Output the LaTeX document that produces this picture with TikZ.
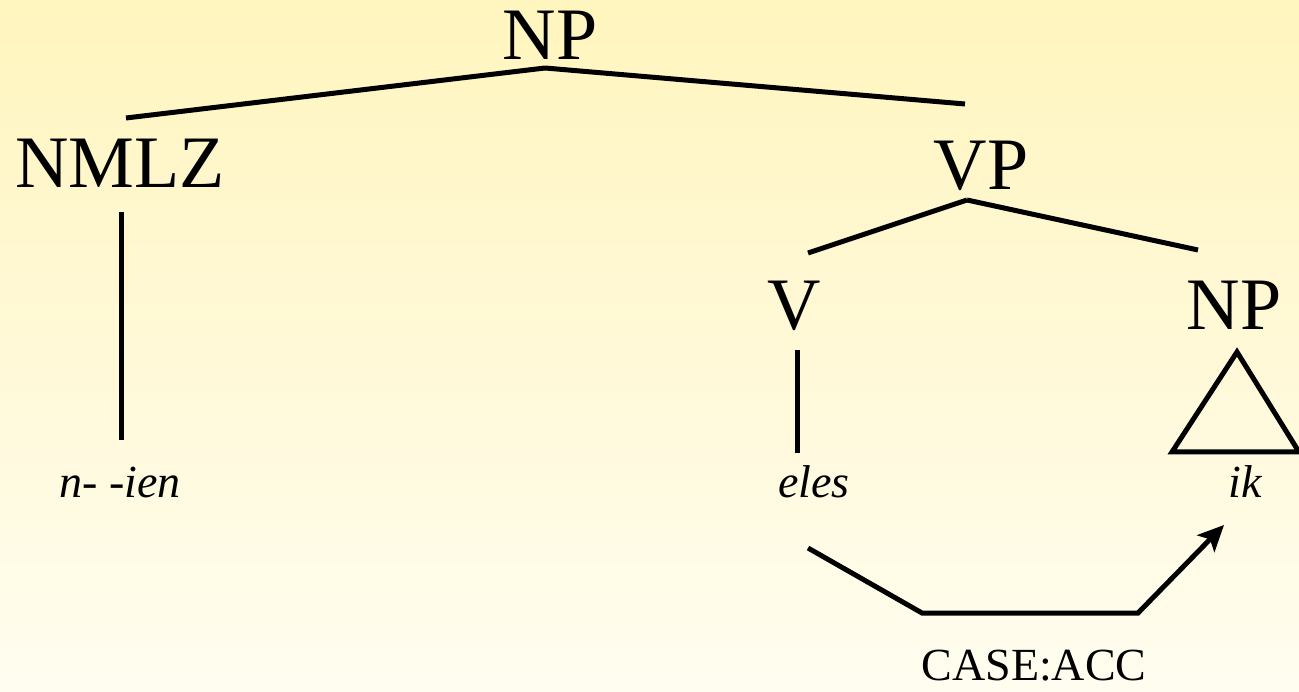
\documentclass[tikz,border=0pt]{standalone}
\usepackage{fontspec}
\setmainfont{Liberation Serif}
\usetikzlibrary{arrows.meta}
\definecolor{bgtop}{RGB}{255,245,190}
\definecolor{bgbot}{RGB}{255,253,240}
\begin{document}
\begin{tikzpicture}[x=1pt,y=-1pt,
  big/.style={anchor=base,inner sep=0pt,font=\fontsize{74}{80}\selectfont},
  word/.style={anchor=base,inner sep=0pt,font=\fontsize{46}{52}\selectfont\itshape},
  lab/.style={anchor=base,inner sep=0pt,font=\fontsize{46}{50}\selectfont},
  branch/.style={line width=5pt},
]
\useasboundingbox (0,0) rectangle (1299,692);
\shade[top color=bgtop,bottom color=bgbot] (0,0) rectangle (1299,692);

\node[big] (np) at (550,60) {NP};
\node[big] (nmlz) at (120,188) {NMLZ};
\node[big] (vp) at (981,190) {VP};
\node[big] (v) at (794,330) {V};
\node[big] (np2) at (1234,330) {NP};
\node[word] (nien) at (120,497) {n- -ien};
\node[word] (eles) at (814,497) {eles};
\node[word] (ik) at (1245,497) {ik};
\node[lab] (case) at (1034,680) {CASE:ACC};

\coordinate (npb) at (545,68);
\coordinate (nmlzt) at (126,118);
\coordinate (vpt) at (965,104);
\coordinate (nmlzb) at (121,212);
\coordinate (nient) at (121,440);
\coordinate (vpb) at (967,200);
\coordinate (vt) at (808,253);
\coordinate (np2t) at (1198,250);
\coordinate (vb) at (797,350);
\coordinate (elest) at (797,453);
\coordinate (tria) at (1237,352);
\coordinate (tril) at (1172,452);
\coordinate (trir) at (1299,452);
\coordinate (a0) at (808,548);
\coordinate (a1) at (922,613);
\coordinate (a2) at (1138,613);
\coordinate (a3) at (1224,525);

\draw[branch] (npb) -- (nmlzt);
\draw[branch] (npb) -- (vpt);
\draw[branch] (nmlzb) -- (nient);
\draw[branch] (vpb) -- (vt);
\draw[branch] (vpb) -- (np2t);
\draw[branch] (vb) -- (elest);
\draw[branch,line join=miter] (tria) -- (tril) -- (trir) -- cycle;
\draw[branch,-{Stealth[length=26pt,width=24pt,inset=6pt]}] (a0) -- (a1) -- (a2) -- (a3);
\end{tikzpicture}
\end{document}
